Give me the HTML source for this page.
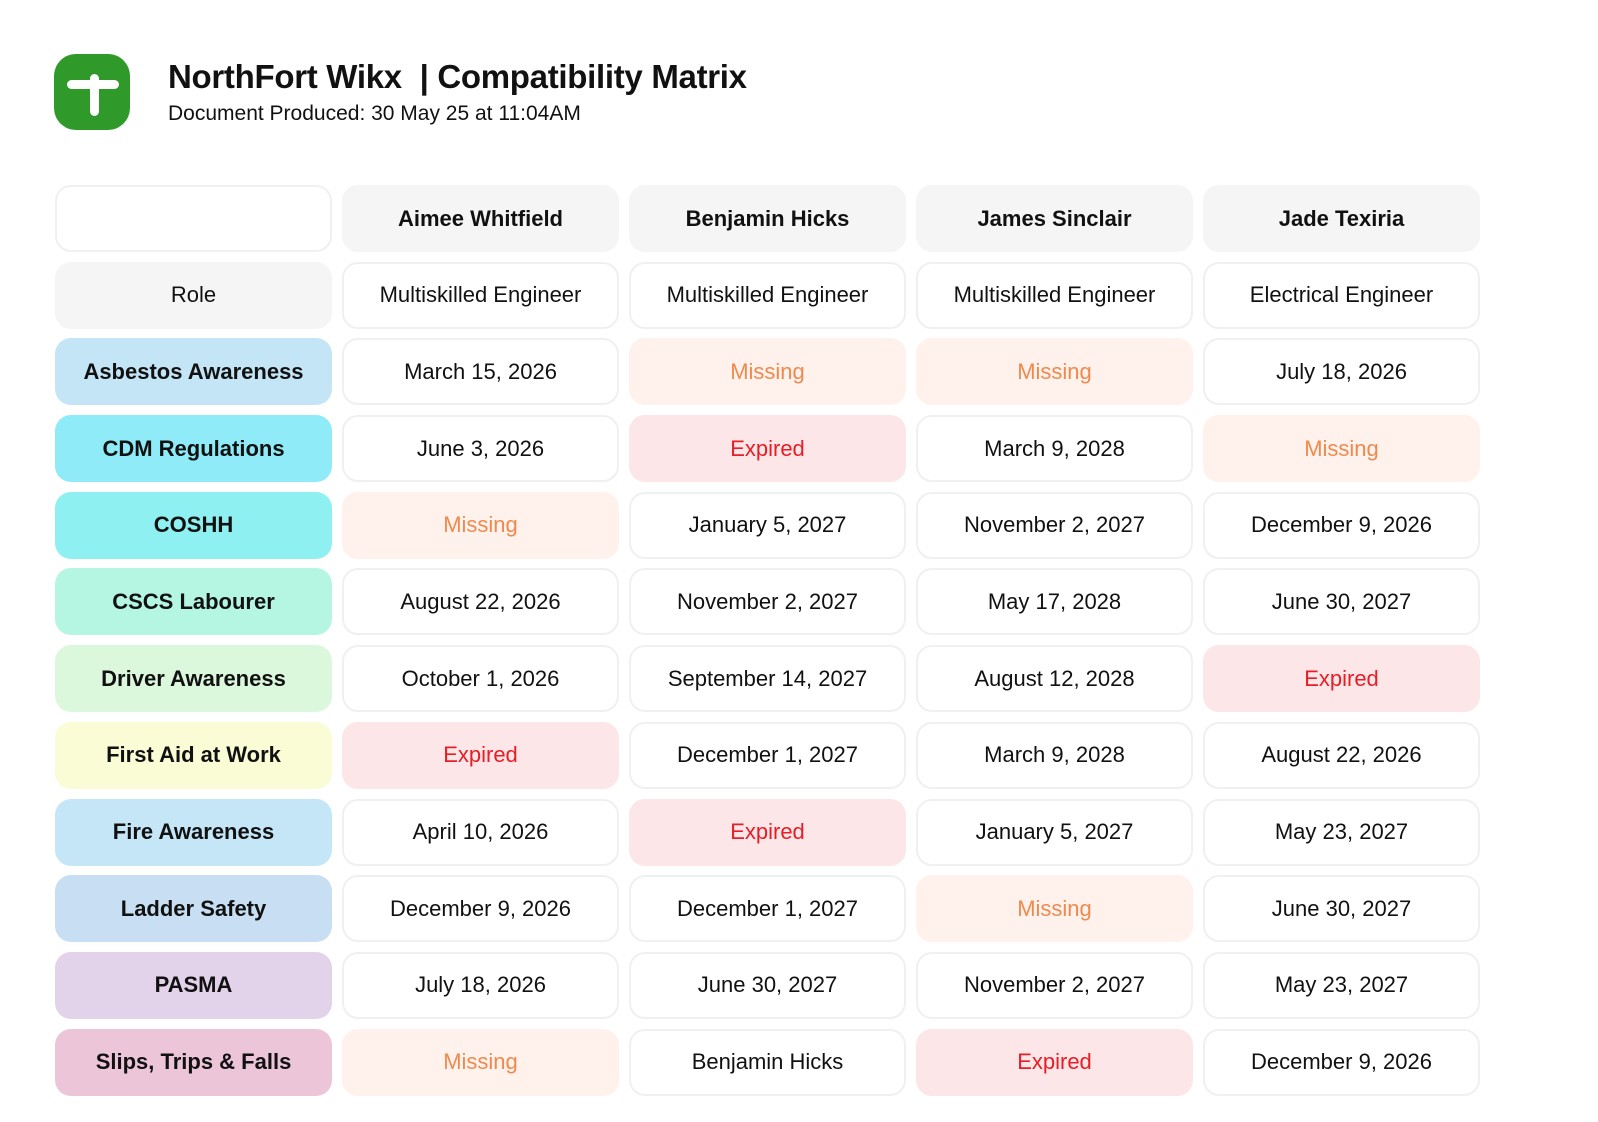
<!DOCTYPE html>
<html><head><meta charset="utf-8"><style>
body{margin:0;width:1598px;height:1122px;background:#fff;font-family:"Liberation Sans",sans-serif;color:#111;position:relative;overflow:hidden}
.logo{position:absolute;left:54px;top:54px;width:76px;height:76px;background:#2f9a2a;border-radius:22px}
.logo .v{position:absolute;left:36px;top:20px;width:9px;height:42px;background:#fff;border-radius:5px}
.logo .h{position:absolute;left:13px;top:26px;width:52px;height:9px;background:#fff;border-radius:5px}
.t1{position:absolute;left:168px;top:58px;font-size:33px;font-weight:bold;letter-spacing:-0.3px}
.t2{position:absolute;left:168px;top:102px;font-size:21px}
.grid{position:absolute;left:55px;top:185px;display:grid;grid-template-columns:repeat(5,277px);grid-auto-rows:67px;column-gap:10px;row-gap:9.7px}
.grid div{border-radius:16px;border:2px solid #f0f0f0;box-sizing:border-box;display:flex;align-items:center;justify-content:center;font-size:22px;white-space:nowrap}
.hd{background:#f5f5f5;border-color:#f5f5f5!important;font-weight:bold}
.lb{font-weight:bold;border-color:transparent!important}
.m{background:#fff1ec;border-color:#fff1ec!important;color:#ef8a4e}
.e{background:#fde6e8;border-color:#fde6e8!important;color:#e61e26}
</style></head><body>
<div class="logo"><div class="v"></div><div class="h"></div></div>
<div class="t1">NorthFort Wikx &nbsp;| Compatibility Matrix</div>
<div class="t2">Document Produced: 30 May 25 at 11:04AM</div>
<div class="grid">
<div></div><div class="hd">Aimee Whitfield</div><div class="hd">Benjamin Hicks</div><div class="hd">James Sinclair</div><div class="hd">Jade Texiria</div>
<div class="lb" style="background:#f5f5f5;font-weight:normal">Role</div><div>Multiskilled Engineer</div><div>Multiskilled Engineer</div><div>Multiskilled Engineer</div><div>Electrical Engineer</div>
<div class="lb" style="background:#c3e5f5">Asbestos Awareness</div><div>March 15, 2026</div><div class="m">Missing</div><div class="m">Missing</div><div>July 18, 2026</div>
<div class="lb" style="background:#8eebf7">CDM Regulations</div><div>June 3, 2026</div><div class="e">Expired</div><div>March 9, 2028</div><div class="m">Missing</div>
<div class="lb" style="background:#8ef0f0">COSHH</div><div class="m">Missing</div><div>January 5, 2027</div><div>November 2, 2027</div><div>December 9, 2026</div>
<div class="lb" style="background:#b5f6e3">CSCS Labourer</div><div>August 22, 2026</div><div>November 2, 2027</div><div>May 17, 2028</div><div>June 30, 2027</div>
<div class="lb" style="background:#dcf8dc">Driver Awareness</div><div>October 1, 2026</div><div>September 14, 2027</div><div>August 12, 2028</div><div class="e">Expired</div>
<div class="lb" style="background:#fafcd6">First Aid at Work</div><div class="e">Expired</div><div>December 1, 2027</div><div>March 9, 2028</div><div>August 22, 2026</div>
<div class="lb" style="background:#c5e6f7">Fire Awareness</div><div>April 10, 2026</div><div class="e">Expired</div><div>January 5, 2027</div><div>May 23, 2027</div>
<div class="lb" style="background:#c8dff3">Ladder Safety</div><div>December 9, 2026</div><div>December 1, 2027</div><div class="m">Missing</div><div>June 30, 2027</div>
<div class="lb" style="background:#e3d3ea">PASMA</div><div>July 18, 2026</div><div>June 30, 2027</div><div>November 2, 2027</div><div>May 23, 2027</div>
<div class="lb" style="background:#ecc5d8">Slips, Trips &amp; Falls</div><div class="m">Missing</div><div>Benjamin Hicks</div><div class="e">Expired</div><div>December 9, 2026</div>
</div>
</body></html>
